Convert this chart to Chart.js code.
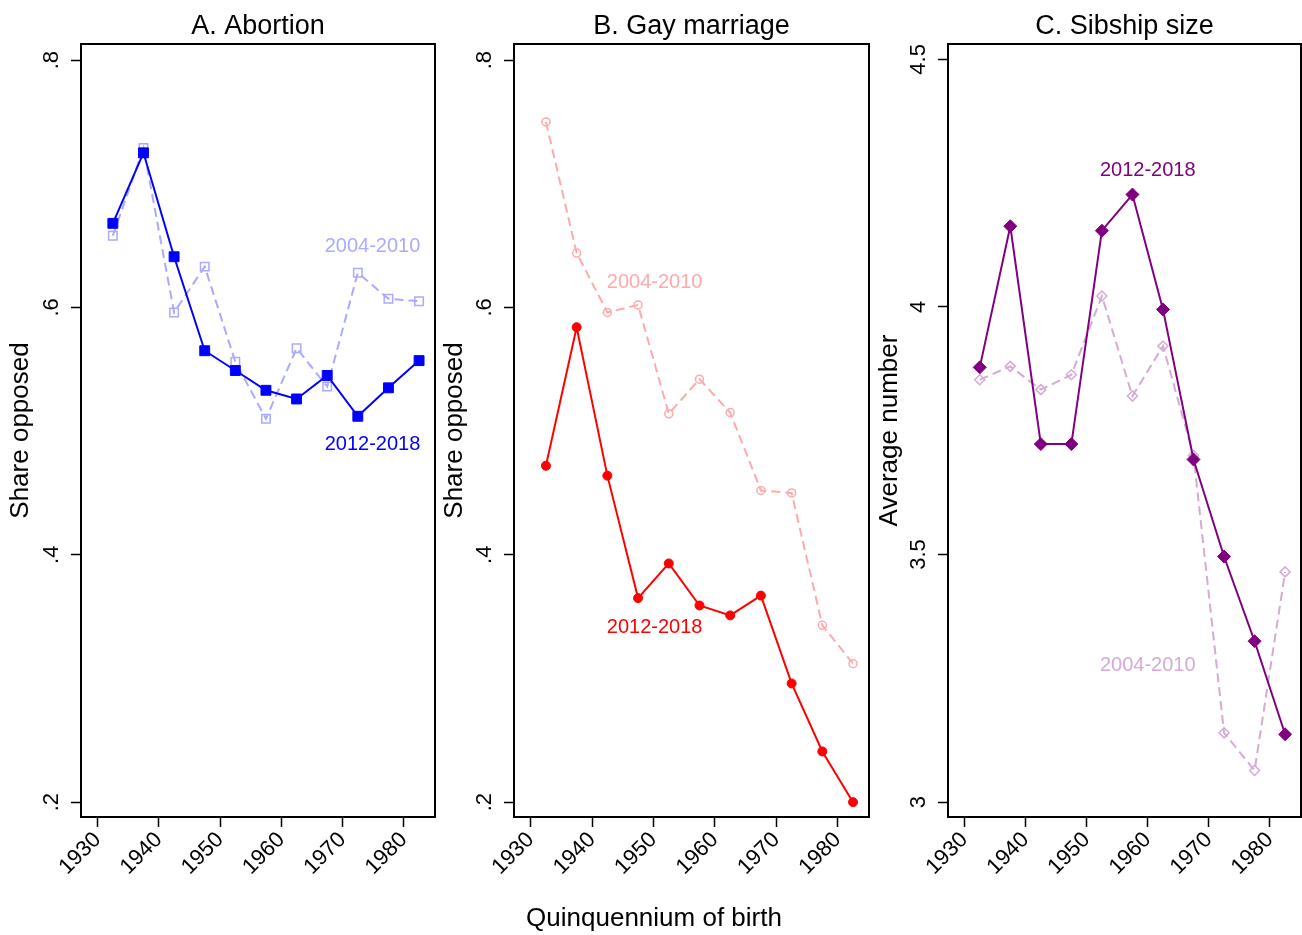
<!DOCTYPE html>
<html>
<head>
<meta charset="utf-8">
<title>Opposition and sibship size by cohort</title>
<script src="https://cdn.jsdelivr.net/npm/chart.js@4.4.1/dist/chart.umd.min.js"></script>
<style>
  html, body { margin: 0; padding: 0; background: #fff; }
  body {
    width: 1302px; height: 935px; position: relative; overflow: hidden;
    font-family: "Liberation Sans", Arial, sans-serif;
  }
  canvas { position: absolute; top: 0; }
  #xTitle {
    position: absolute; left: 354px; width: 600px; top: 902px;
    text-align: center; font-size: 26px; line-height: 30px; color: #000;
  }
</style>
</head>
<body>
<canvas id="chartA" width="440" height="935" style="left:0px"></canvas>
<canvas id="chartB" width="445" height="935" style="left:430px"></canvas>
<canvas id="chartC" width="437" height="935" style="left:865px"></canvas>
<div id="xTitle">Quinquennium of birth</div>

<script>
// birth cohorts (mid-point of each 5-year group)
const cohorts = [1932.5, 1937.5, 1942.5, 1947.5, 1952.5, 1957.5, 1962.5, 1967.5, 1972.5, 1977.5, 1982.5];

// A. share opposed to abortion
const abortion2012 = [0.668, 0.725, 0.641, 0.565, 0.549, 0.533, 0.526, 0.545, 0.512, 0.535, 0.557];
const abortion2004 = [0.658, 0.729, 0.596, 0.633, 0.556, 0.510, 0.567, 0.536, 0.628, 0.607, 0.605];

// B. share opposed to gay marriage
const gay2012 = [0.472, 0.584, 0.464, 0.365, 0.393, 0.359, 0.351, 0.367, 0.296, 0.241, 0.200];
const gay2004 = [0.750, 0.644, 0.596, 0.602, 0.514, 0.542, 0.515, 0.452, 0.450, 0.343, 0.312];

// C. average number of siblings
const sibs2012 = [3.878, 4.163, 3.723, 3.723, 4.154, 4.227, 3.995, 3.692, 3.496, 3.325, 3.137];
const sibs2004 = [3.853, 3.880, 3.833, 3.863, 4.022, 3.820, 3.921, 3.700, 3.140, 3.064, 3.465];

// axis ticks
const yearTicks = [1930, 1940, 1950, 1960, 1970, 1980];
const shareTicks = [0.2, 0.4, 0.6, 0.8];
const sibTicks = [3, 3.5, 4, 4.5];

const FONT = '"Liberation Sans", Arial, sans-serif';
Chart.defaults.font.family = FONT;
Chart.defaults.color = '#000';

const shareFmt = v => String(v).replace(/^0\./, '.');
const plainFmt = v => String(v);

const PLOT_TOP = 44, PLOT_BOTTOM = 817, PAGE_H = 935;

const panels = [
    {
        id: 'chartA', left: 0, width: 440, plotLeft: 81, plotRight: 435,
        title: 'A. Abortion', yTitle: 'Share opposed', yTitleX: 21,
        yMin: 0.188, yMax: 0.813, yTicks: shareTicks, fmt: shareFmt,
        recent: { values: abortion2012, color: '#0000ff', style: 'rect', radius: 7 },
        earlier: { values: abortion2004, color: 'rgb(170,170,255)', style: 'rect', radius: 6 },
        notes: [
            { text: '2004-2010', x: 1974.9, y: 0.649, which: 'earlier' },
            { text: '2012-2018', x: 1974.9, y: 0.489, which: 'recent' }
        ]
    },
    {
        id: 'chartB', left: 430, width: 445, plotLeft: 514, plotRight: 869,
        title: 'B. Gay marriage', yTitle: 'Share opposed', yTitleX: 455,
        yMin: 0.188, yMax: 0.813, yTicks: shareTicks, fmt: shareFmt,
        recent: { values: gay2012, color: '#ff0000', style: 'circle', radius: 4.5 },
        earlier: { values: gay2004, color: 'rgb(255,170,170)', style: 'circle', radius: 4 },
        notes: [
            { text: '2004-2010', x: 1950.2, y: 0.620, which: 'earlier' },
            { text: '2012-2018', x: 1950.2, y: 0.341, which: 'recent' }
        ]
    },
    {
        id: 'chartC', left: 865, width: 437, plotLeft: 948, plotRight: 1301,
        title: 'C. Sibship size', yTitle: 'Average number', yTitleX: 890,
        yMin: 2.970, yMax: 4.531, yTicks: sibTicks, fmt: plainFmt,
        recent: { values: sibs2012, color: '#800080', style: 'rectRot', radius: 6.5 },
        earlier: { values: sibs2004, color: 'rgb(213,170,213)', style: 'rectRot', radius: 5 },
        notes: [
            { text: '2012-2018', x: 1960.0, y: 4.276, which: 'recent' },
            { text: '2004-2010', x: 1960.0, y: 3.276, which: 'earlier' }
        ]
    }
];

// rotated y labels, series notes and the box around the plot
function panelDecor(p) {
    return {
        id: 'panelDecor',
        afterDraw(chart) {
            const { ctx, chartArea: a, scales: { x, y } } = chart;
            ctx.save();

            ctx.fillStyle = '#000';
            ctx.font = '22px ' + FONT;
            ctx.textAlign = 'center';
            ctx.textBaseline = 'alphabetic';
            y.ticks.forEach(t => {
                ctx.save();
                ctx.translate(a.left - 23, y.getPixelForValue(t.value));
                ctx.rotate(-Math.PI / 2);
                ctx.fillText(p.fmt(t.value), 0, 0);
                ctx.restore();
            });

            ctx.font = '20px ' + FONT;
            ctx.textBaseline = 'middle';
            p.notes.forEach(n => {
                ctx.fillStyle = p[n.which].color;
                ctx.fillText(n.text, x.getPixelForValue(n.x), y.getPixelForValue(n.y));
            });

            ctx.strokeStyle = '#000';
            ctx.lineWidth = 2;
            ctx.strokeRect(a.left, a.top, a.right - a.left, a.bottom - a.top);
            ctx.restore();
        }
    };
}

function series(s, dashed) {
    return {
        data: cohorts.map((c, i) => ({ x: c, y: s.values[i] })),
        borderColor: s.color,
        borderWidth: 2,
        borderDash: dashed ? [9, 5] : [],
        tension: 0,
        pointStyle: s.style,
        pointRadius: s.radius,
        pointBorderColor: s.color,
        pointBorderWidth: dashed ? 1.5 : 1,
        pointBackgroundColor: dashed ? 'rgba(0,0,0,0)' : s.color
    };
}

const tickGrid = {
    drawOnChartArea: false,
    drawTicks: true,
    tickLength: 10,
    tickWidth: 1.5,
    tickColor: '#000'
};

panels.forEach(p => {
    new Chart(document.getElementById(p.id), {
        type: 'line',
        data: {
            // recent series first so it sits on top
            datasets: [series(p.recent, false), series(p.earlier, true)]
        },
        options: {
            responsive: false,
            animation: false,
            devicePixelRatio: 1,
            events: [],
            layout: {
                autoPadding: false,
                padding: { left: 0, top: 0, bottom: 0, right: p.width - (p.plotRight - p.left) }
            },
            plugins: {
                legend: { display: false },
                tooltip: { enabled: false },
                title: {
                    display: true,
                    text: p.title,
                    fullSize: false,
                    color: '#000',
                    font: { size: 27, weight: 'normal' },
                    padding: { top: 10, bottom: PLOT_TOP - 10 - 27 * 1.2 }
                }
            },
            scales: {
                x: {
                    type: 'linear',
                    min: 1927.3,
                    max: 1985.1,
                    afterBuildTicks: s => { s.ticks = yearTicks.map(v => ({ value: v })); },
                    afterFit: s => {
                        s.height = PAGE_H - PLOT_BOTTOM;
                        // rotated labels should not pull the plot edges in
                        s.paddingLeft = 0;
                        s.paddingRight = 0;
                    },
                    ticks: {
                        autoSkip: false,
                        minRotation: 45,
                        maxRotation: 45,
                        padding: 0,
                        color: '#000',
                        font: { size: 22 },
                        callback: v => String(v)
                    },
                    grid: tickGrid,
                    border: { display: false }
                },
                y: {
                    type: 'linear',
                    min: p.yMin,
                    max: p.yMax,
                    afterBuildTicks: s => { s.ticks = p.yTicks.map(v => ({ value: v })); },
                    afterFit: s => {
                        s.width = p.plotLeft - p.left;
                        s.paddingTop = 0;
                        s.paddingBottom = 0;
                    },
                    ticks: { display: false },
                    grid: tickGrid,
                    border: { display: false },
                    title: {
                        display: true,
                        text: p.yTitle,
                        color: '#000',
                        font: { size: 26 },
                        padding: { top: p.yTitleX - p.left - 26 * 1.2 / 2, bottom: 0 }
                    }
                }
            }
        },
        plugins: [panelDecor(p)]
    });
});
</script>
</body>
</html>
